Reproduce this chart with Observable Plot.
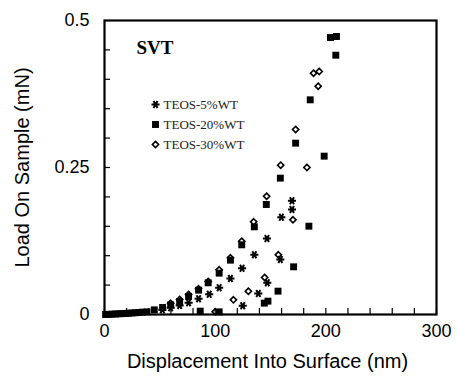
<!DOCTYPE html>
<html>
<head>
<meta charset="utf-8">
<script src="https://cdn.jsdelivr.net/npm/d3@7"></script>
<script src="https://cdn.jsdelivr.net/npm/@observablehq/plot@0.6"></script>
<style>
  html, body { margin: 0; padding: 0; background: #fff; }
</style>
</head>
<body>
<div id="chart"></div>
<script>
// TEOS-20%WT (filled squares)
const x20 = [1, 4, 7, 10, 13, 16, 19, 22, 25, 28, 31, 34,
  38.4, 45.0, 52.5, 59.8, 67.9, 76.0, 85.0, 93.7, 103.6, 113.8, 124.0, 135.4, 146.2, 158.9, 172.7, 185.9, 204.2, 209.6,
  209.0, 198.5, 184.7, 170.9, 156.8, 147.7, 144.4, 103.6, 86.5];
const y20 = [0, 0.0003, 0.0006, 0.0009, 0.0012, 0.0015, 0.0018, 0.0022, 0.0026, 0.003, 0.0035, 0.004,
  0.0045, 0.0079, 0.0119, 0.0164, 0.0221, 0.0306, 0.0414, 0.0539, 0.0703, 0.0924, 0.1185, 0.1491, 0.1871, 0.2319, 0.2914, 0.3651, 0.4711, 0.4728,
  0.441, 0.2693, 0.1502, 0.0811, 0.0397, 0.0227, 0.0193, 0.0045, 0.0057];

// TEOS-5%WT (asterisks)
const x5 = [52.3, 59.8, 67.9, 76.0, 85.0, 94.6, 103.6, 113.8, 124.3, 135.4, 146.8, 159.8, 169.4, 169.4,
  158.9, 147.1, 139.0, 124.9];
const y5 = [0.0079, 0.0113, 0.0153, 0.0198, 0.0267, 0.0346, 0.0454, 0.0612, 0.0788, 0.1015, 0.1293, 0.1655, 0.1786, 0.1933,
  0.0935, 0.0539, 0.0357, 0.0147];

// TEOS-30%WT (open diamonds)
const x30 = [59.8, 67.9, 76.0, 85.0, 93.7, 103.6, 113.8, 124.0, 134.8, 146.5, 159.2, 172.7, 188.9, 194.0,
  193.1, 182.9, 170.3, 157.1, 144.7, 130.0, 116.5, 100.0];
const y30 = [0.019, 0.0255, 0.034, 0.0437, 0.0561, 0.076, 0.0964, 0.1247, 0.1576, 0.2012, 0.254, 0.3146, 0.4104, 0.4133,
  0.3883, 0.25, 0.161, 0.1015, 0.0629, 0.0396, 0.0249, 0.0045];

const seriesLabels = ["TEOS-5%WT", "TEOS-20%WT", "TEOS-30%WT"];
const xTickLabels = [0, 100, 200, 300];
const xMinorTicks = d3.range(0, 301, 20);
const yTickLabels = [0, 0.25, 0.5];
const yMinorTicks = d3.range(0, 0.5001, 0.05);
const panelTitle = "SVT";
const xTitle = "Displacement Into Surface (nm)";
const yTitle = "Load On Sample (mN)";

const toRows = (xs, ys) => xs.map((x, i) => ({x, y: ys[i]}));
const d20 = toRows(x20, y20);
const d5 = toRows(x5, y5);
const d30 = toRows(x30, y30);

const symStyles = [
  {symbol: "asterisk", stroke: "black", fill: "none", strokeWidth: 2, r: 3.8, rotate: 90},
  {symbol: "square", fill: "black", stroke: "none", r: 3.9},
  {symbol: "diamond2", stroke: "black", fill: "none", strokeWidth: 1.6, r: 2.8}
];

const legendMarks = seriesLabels.flatMap((lab, i) => [
  Plot.dot([lab], {frameAnchor: "top-left", dx: 51, dy: 84 + 20 * i, ...symStyles[i]}),
  Plot.text([lab], {text: d => d, frameAnchor: "top-left", dx: 59, dy: 84 + 20 * i, textAnchor: "start", lineAnchor: "middle",
    fontFamily: "Liberation Serif, Times New Roman, serif", fontSize: 13, fill: "#222"})
]);

const chart = Plot.plot({
  width: 456,
  height: 377,
  marginLeft: 104,
  marginRight: 20,
  marginTop: 20,
  marginBottom: 63,
  style: {fontFamily: "Liberation Sans, Arial, sans-serif", fontSize: "18px", color: "black", background: "white"},
  x: {domain: [0, 300]},
  y: {domain: [0, 0.5]},
  marks: [
    Plot.axisX({ticks: xMinorTicks, tickSize: -6, tickFormat: () => "", label: null, strokeWidth: 1.2}),
    Plot.axisY({ticks: yMinorTicks, tickSize: -6, tickFormat: () => "", label: null, strokeWidth: 1.2}),
    Plot.axisX({ticks: xTickLabels, tickSize: 0, tickPadding: 10, label: null, fontSize: 18}),
    Plot.axisY({ticks: yTickLabels, tickSize: 0, tickPadding: 15, fontSize: 18, tickFormat: d => String(d), label: null}),
    Plot.axisY({ticks: yTickLabels, tickSize: 0, fontSize: 20, tickFormat: () => "",
      label: yTitle, labelAnchor: "center", labelOffset: 90, labelArrow: "none"}),
    Plot.frame({stroke: "black", strokeWidth: 2.2}),
    Plot.dot(d20, {x: "x", y: "y", ...symStyles[1]}),
    Plot.dot(d5, {x: "x", y: "y", ...symStyles[0]}),
    Plot.dot(d30, {x: "x", y: "y", ...symStyles[2]}),
    ...legendMarks,
    Plot.text([panelTitle], {text: d => d, frameAnchor: "top-left", dx: 32, dy: 27, textAnchor: "start", lineAnchor: "middle",
      fontFamily: "Liberation Serif, Times New Roman, serif", fontWeight: "bold", fontSize: 19}),
    Plot.text([xTitle], {text: d => d, frameAnchor: "bottom", dx: -3, dy: 47, lineAnchor: "middle", fontSize: 20})
  ]
});
document.getElementById("chart").appendChild(chart);
</script>
</body>
</html>
